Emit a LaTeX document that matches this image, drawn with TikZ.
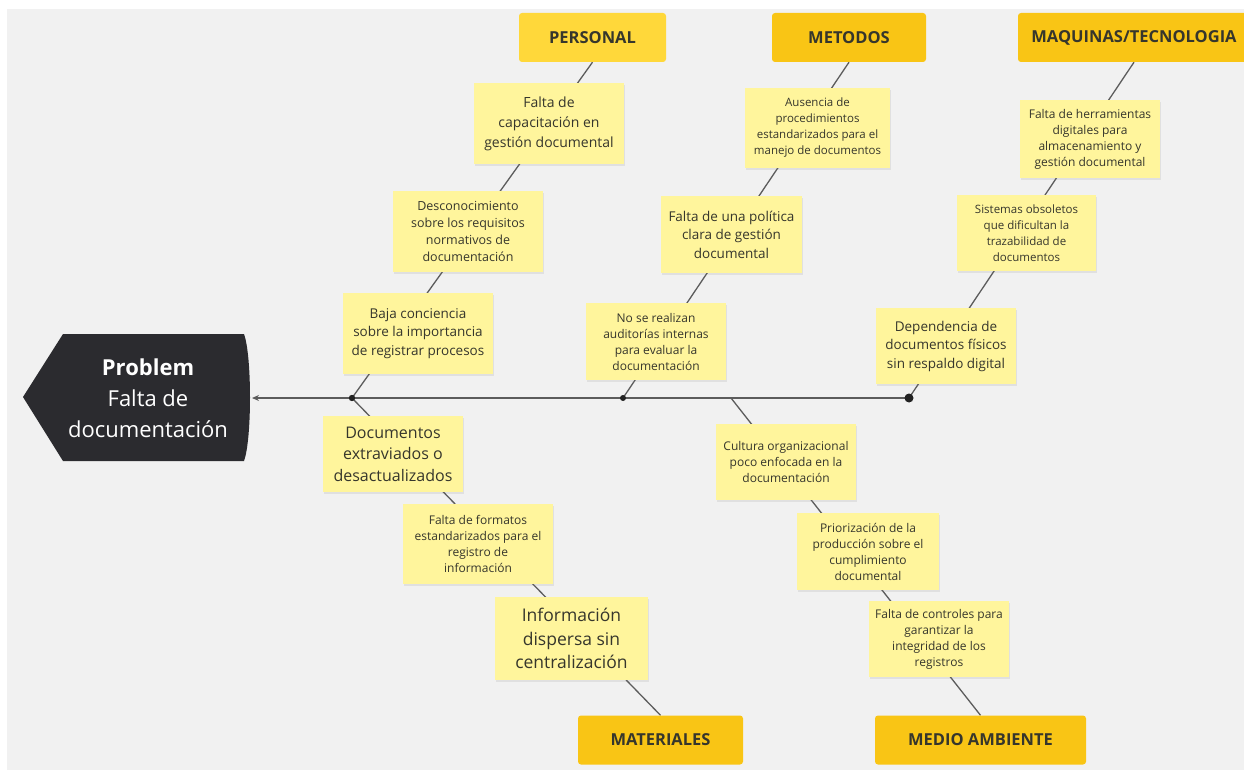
\documentclass[tikz,border=0pt]{standalone}
\usepackage{fontspec}
\setmainfont{Open Sans}
\usetikzlibrary{shadows,arrows.meta}
\definecolor{bgc}{HTML}{F1F1F1}
\definecolor{notey}{HTML}{FFF59C}
\definecolor{caty}{HTML}{F9C515}
\definecolor{catp}{HTML}{FFD83A}
\definecolor{bonec}{HTML}{5C5C5C}
\definecolor{txtc}{HTML}{36362C}
\definecolor{probc}{HTML}{2B2B2F}
\definecolor{dotc}{HTML}{222222}
\pgfdeclarelayer{background}
\pgfsetlayers{background,main}
\begin{document}
\begin{tikzpicture}[x=1pt,y=-1pt,
  note/.style={fill=notey, text=txtc, align=center, inner sep=0pt,
    drop shadow={opacity=0.15,shadow xshift=1pt,shadow yshift=-2pt}},
  catbox/.style={fill=caty, text=txtc, rounded corners=3pt,
    font=\fontsize{16.5}{19}\selectfont\bfseries, inner sep=0pt, minimum height=49pt},
  boneline/.style={draw=bonec, line width=1.3pt},
  fsA/.style={font=\fontsize{11.5}{16}\selectfont},
  fsAA/.style={font=\fontsize{12}{16}\selectfont},
  fsB/.style={font=\fontsize{12}{16}\selectfont},
  fsC/.style={font=\fontsize{12.5}{17}\selectfont},
  fsD/.style={font=\fontsize{13.5}{18.5}\selectfont},
  fsE/.style={font=\fontsize{14}{20}\selectfont},
  fsF/.style={font=\fontsize{16}{21.5}\selectfont},
  fsG/.style={font=\fontsize{17.5}{23.5}\selectfont}
]
\useasboundingbox (0,0) rectangle (1244,770);

% problem head
\fill[probc] (23,397) -- (63,334) -- (244,334) .. controls (252,356) and (252,439) .. (244,461) -- (63,461) -- cycle;
\node[text=white, align=center, font=\fontsize{22}{31}\selectfont] (prob) at (148,398)
  {\textbf{Problem}\\Falta de\\documentación};
\coordinate (probR) at (252,398);

% spine points
\coordinate (dP) at (352,398);
\coordinate (dM) at (623,398);
\coordinate (dT) at (909,398);
\coordinate (mA) at (731,398);

% categories
\node[catbox, fill=catp, minimum width=147pt] (pers) at (592.5,37.5) {PERSONAL};
\node[catbox, minimum width=154pt] (met) at (849,37.5) {METODOS};
\node[catbox, minimum width=232pt] (maq) at (1134,37.5) {MAQUINAS/TECNOLOGIA};
\node[catbox, minimum width=165pt] (mat) at (660.5,740) {MATERIALES};
\node[catbox, minimum width=211pt] (med) at (980.5,740) {MEDIO AMBIENTE};

% personal
\node[note, fsE, minimum width=150pt, minimum height=81pt] (p1) at (549,123.5)
  {Falta de\\capacitación en\\gestión documental};
\node[note, fsC, minimum width=150pt, minimum height=81pt] (p2) at (468,231.5)
  {Desconocimiento\\sobre los requisitos\\normativos de\\documentación};
\node[note, fsD, minimum width=150pt, minimum height=81pt] (p3) at (418,333.5)
  {Baja conciencia\\sobre la importancia\\de registrar procesos};

% metodos
\node[note, fsA, minimum width=145pt, minimum height=80pt] (m1) at (817.5,128)
  {Ausencia de\\procedimientos\\estandarizados para el\\manejo de documentos};
\node[note, fsD, minimum width=141pt, minimum height=77pt] (m2) at (731.5,234.5)
  {Falta de una política\\clara de gestión\\documental};
\node[note, fsB, minimum width=140pt, minimum height=77pt] (m3) at (656,341.5)
  {No se realizan\\auditorías internas\\para evaluar la\\documentación};

% maquinas
\node[note, fsAA, minimum width=140pt, minimum height=78pt] (t1) at (1090,139)
  {Falta de herramientas\\digitales para\\almacenamiento y\\gestión documental};
\node[note, fsA, minimum width=139pt, minimum height=76pt] (t2) at (1026.5,233)
  {Sistemas obsoletos\\que dificultan la\\trazabilidad de\\documentos};
\node[note, fsD, minimum width=140pt, minimum height=76pt] (t3) at (946,346)
  {Dependencia de\\documentos físicos\\sin respaldo digital};

% materiales
\node[note, fsF, minimum width=140pt, minimum height=76pt] (a1) at (393,454)
  {Documentos\\extraviados o\\desactualizados};
\node[note, fsB, minimum width=150pt, minimum height=80pt] (a2) at (478,544)
  {Falta de formatos\\estandarizados para el\\registro de\\información};
\node[note, fsG, minimum width=153pt, minimum height=83pt] (a3) at (571.5,638.5)
  {Información\\dispersa sin\\centralización};

% medio ambiente
\node[note, fsB, minimum width=140pt, minimum height=76pt] (e1) at (786,462)
  {Cultura organizacional\\poco enfocada en la\\documentación};
\node[note, fsB, minimum width=142pt, minimum height=77pt] (e2) at (868,551.5)
  {Priorización de la\\producción sobre el\\cumplimiento\\documental};
\node[note, fsB, minimum width=140pt, minimum height=76pt] (e3) at (939,639)
  {Falta de controles para\\garantizar la\\integridad de los\\registros};

% background and bones
\begin{pgfonlayer}{background}
\fill[white] (0,0) rectangle (1244,770);
\fill[bgc] (7,9) rectangle (1244,770);
\draw[boneline] (pers.south) -- (dP);
\draw[boneline] (met.south) -- (dM);
\draw[boneline] (maq.south) -- (dT);
\draw[boneline] (dP) -- (mat.north);
\draw[boneline] (mA) -- (med.north);
\draw[boneline, -{Stealth[length=7pt,width=6pt]}] (dT) -- (probR);
\end{pgfonlayer}

% joints
\fill[dotc] (dP) circle (3.2pt);
\fill[dotc] (dM) circle (3pt);
\fill[dotc] (dT) circle (4.5pt);
\end{tikzpicture}
\end{document}
